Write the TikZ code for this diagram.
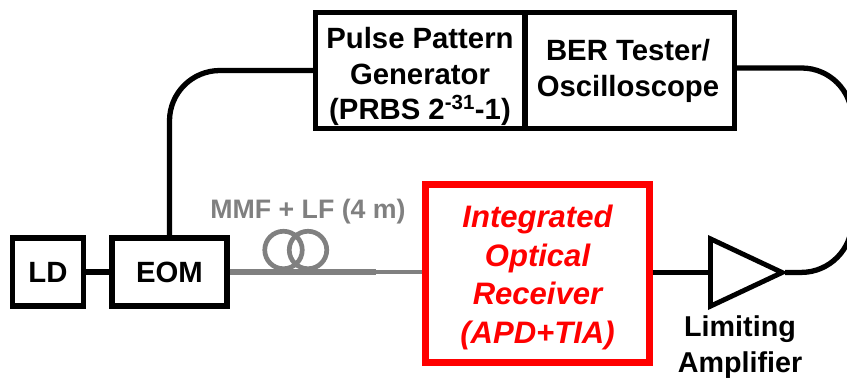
\documentclass[tikz,border=0pt]{standalone}
\usepackage{fontspec}
\setmainfont{Liberation Sans}
\usetikzlibrary{positioning,shapes.geometric}
\definecolor{fibre}{RGB}{128,128,128}
\definecolor{rxred}{RGB}{255,0,0}
\tikzset{
  unit/.style={draw=black,line width=4.5pt,fill=white,inner sep=0pt,align=center,
    font=\fontsize{25}{30.5}\selectfont\bfseries},
  wire/.style={draw=black,line width=4.5pt},
  fibrethick/.style={draw=fibre,line width=5pt},
  fibrethin/.style={draw=fibre,line width=2.6pt},
  coil/.style={circle,draw=fibre,line width=4pt,minimum size=32pt,inner sep=0pt},
  rxbox/.style={draw=rxred,line width=6pt,fill=white,inner sep=0pt,align=center,text=rxred,
    font=\fontsize{26.5}{33}\selectfont\bfseries\itshape},
  amp/.style={isosceles triangle,isosceles triangle stretches,draw=black,line width=4.2pt,
    fill=white,inner sep=0pt,minimum width=2.02cm,minimum height=2.15cm},
  tag/.style={font=\fontsize{24.5}{30}\selectfont\bfseries,align=center},
}
\begin{document}
\begin{tikzpicture}[x=0.03cm,y=-0.03cm]
  \clip (0,0) rectangle (847,378);
  \fill[white] (0,0) rectangle (847,378);
  \node[unit,minimum width=60pt,minimum height=58pt] (ld) at (48,272) {LD};
  \node[unit,minimum width=98pt,minimum height=58pt] (eom) at (169.5,272) {EOM};
  \node[unit,minimum width=178pt,minimum height=99pt] (ppg) at (420,70.5) {};
  \node[unit,minimum width=178pt,minimum height=99pt] (ber) at (630,70.5) {};
  \node[font=\fontsize{25}{30.5}\selectfont\bfseries,align=center] (ppgtext) at (420,76.5) {Pulse Pattern\\Generator\\(PRBS 2\textsuperscript{-31}-1)};
  \node[font=\fontsize{25}{30.5}\selectfont\bfseries,align=center] (bertext) at (628,71) {BER Tester/\\Oscilloscope};
  \node[rxbox,minimum width=190.5pt,minimum height=151.5pt] (rx) at (537.5,273.5) {};
  \node[font=\fontsize{26.5}{33}\selectfont\bfseries\itshape,align=center,text=rxred] (rxtext) at (537.5,277.5) {Integrated\\Optical\\Receiver\\(APD+TIA)};
  \node[amp,anchor=west] (la) at (708,272.5) {};
  \node[tag] (latag) at (740,347) {Limiting\\Amplifier};
  \coordinate (fibreend) at (376,272);
  \coordinate (eastup) at (852,68);
  \coordinate (eastdown) at (852,272);
  \draw[wire] (ld) -- (eom);
  \draw[wire,rounded corners=43pt] (eom.north) |- (ppg.west);
  \draw[wire,rounded corners=43pt,shorten >=-3pt] (ber.east |- 0,68) -- (eastup) -- (eastdown) -- (la.apex);
  \draw[wire] (rx.east |- la.west) -- (la.west);
  \draw[fibrethick] (eom.east) -- (fibreend);
  \draw[fibrethin] (fibreend) -- (rx.west |- fibreend);
  \node[coil] (coila) at (283.5,250) {};
  \node[coil] (coilb) at (308,250) {};
  \node[font=\fontsize{22.8}{26}\selectfont\bfseries,text=fibre] (mmf) at (308,212) {MMF + LF (4 m)};
\end{tikzpicture}
\end{document}
